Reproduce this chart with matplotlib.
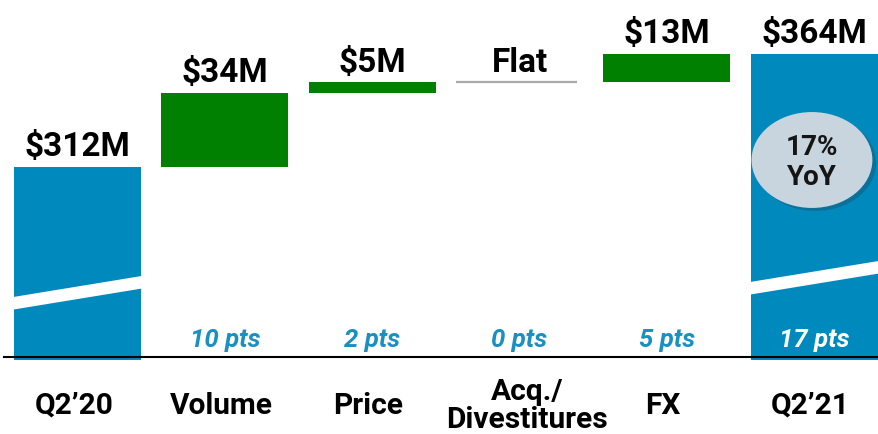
import matplotlib.pyplot as plt
from matplotlib.patches import Polygon, Ellipse
from matplotlib.transforms import blended_transform_factory

# données du pont Q2'20 -> Q2'21
categories = ["Q2’20", "Volume", "Price", "Acq./\nDivestitures", "FX", "Q2’21"]
start_total = 312
deltas = [34, 5, 0, 13]
end_total = 364
value_labels = ["$312M", "$34M", "$5M", "Flat", "$13M", "$364M"]
pts_labels = ["", "10 pts", "2 pts", "0 pts", "5 pts", "17 pts"]
yoy_text = "17%\nYoY"

BLUE = "#0089bc"
GREEN = "#008000"
PTS_BLUE = "#1a8fc2"
FONT = "Roboto"

AXIS_FLOOR = 224.4      # axe coupé : le bas ne vaut pas 0
W = 0.86

fig = plt.figure(figsize=(8.79, 4.35), dpi=100)
ax = fig.add_axes([0, 77 / 435, 1, 358 / 435])
ax.set_xlim(-0.526, 5.44)
ax.set_ylim(AXIS_FLOOR, 389.4)
ax.axis("off")

# barres totales
for i, total in [(0, start_total), (5, end_total)]:
    ax.bar(i, total - AXIS_FLOOR + 1.2, bottom=AXIS_FLOOR - 1.2, width=W,
           color=BLUE, clip_on=False, zorder=2)

# barres intermédiaires
level = start_total
tops = [start_total]
for k, d in enumerate(deltas):
    i = k + 1
    if d == 0:
        ax.hlines(level, i - 0.43, i + 0.39, color="#aaaaaa", lw=1.6, zorder=2)
    else:
        ax.bar(i, d, bottom=level, width=W, color=GREEN, zorder=2)
    level += d
    tops.append(level)
tops.append(end_total)

# coupure blanche en diagonale
for i, base in [(0, 246.1), (5, 253.0)]:
    x0, x1 = i - W / 2 - 0.02, i + W / 2 + 0.02
    poly = Polygon([(x0, base), (x1, base + 10.0), (x1, base + 15.8), (x0, base + 5.8)],
                   closed=True, color="white", lw=0, zorder=3)
    ax.add_patch(poly)

# étiquettes de valeur
for i, (lab, top) in enumerate(zip(value_labels, tops)):
    ax.annotate(lab, (i, top), xytext=(0, 8.5), textcoords="offset points",
                ha="center", va="baseline", fontsize=24, fontweight="bold",
                family=FONT, color="black")

# points de croissance
tr = blended_transform_factory(ax.transData, ax.transAxes)
for i, lab in enumerate(pts_labels):
    if not lab:
        continue
    ax.text(i, 0.032, lab, transform=tr, ha="center", va="baseline",
            fontsize=18.5, fontweight="bold", style="italic", family=FONT,
            color="white" if i == 5 else PTS_BLUE, zorder=4)

# ligne de base
ax.plot([0.004, 1], [0, 0], transform=ax.transAxes, color="black", lw=1.5,
        clip_on=False, zorder=5)

# catégories
for i, cat in enumerate(categories):
    dx = 0.05 if "\n" in cat else -0.025
    ax.text(i + dx, -48 / 358, cat, transform=tr, ha="center", va="center",
            fontsize=21.5, fontweight="bold", family=FONT, linespacing=1.02)

# bulle YoY
shadow = Ellipse((5.01, 313.8), 0.82, 44.2, color="#1c5572", alpha=0.45, lw=0, zorder=4)
ax.add_patch(shadow)
bubble = Ellipse((4.985, 315.2), 0.82, 44.2, color="#c9d5de", lw=0, zorder=5)
ax.add_patch(bubble)
ax.text(4.985, 314.5, yoy_text, ha="center", va="center", fontsize=20,
        fontweight="bold", family=FONT, color="#151515", linespacing=1.1, zorder=6)

fig.savefig("out.png", dpi=100)
